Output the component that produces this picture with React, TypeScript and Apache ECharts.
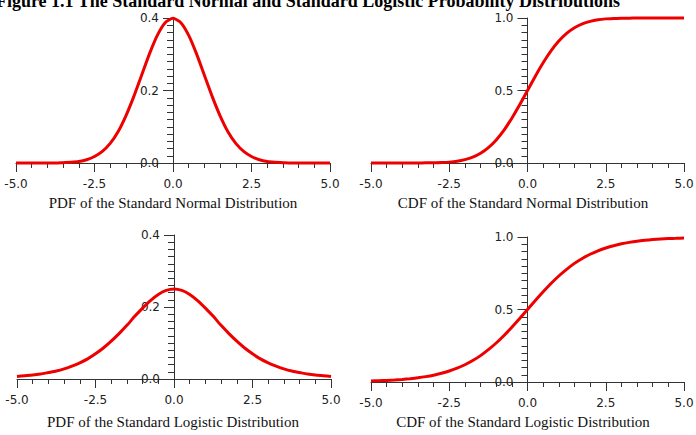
import React, { useEffect, useRef } from "react";
import * as echarts from "echarts";

const TITLE = "Figure 1.1 The Standard Normal and Standard Logistic Probability Distributions";
const CAPTIONS = [
  "PDF of the Standard Normal Distribution",
  "CDF of the Standard Normal Distribution",
  "PDF of the Standard Logistic Distribution",
  "CDF of the Standard Logistic Distribution",
];

const X = [
  -5, -4.75, -4.5, -4.25, -4, -3.75, -3.5, -3.25, -3, -2.75, -2.5, -2.25, -2, -1.75, -1.5, -1.25, -1, -0.75, -0.5, -0.25,
  0, 0.25, 0.5, 0.75, 1, 1.25, 1.5, 1.75, 2, 2.25, 2.5, 2.75, 3, 3.25, 3.5, 3.75, 4, 4.25, 4.5, 4.75, 5,
];

const normalPdf = [
  0.0, 0.0, 0.0, 0.0, 0.0, 0.0, 0.001, 0.002, 0.004, 0.009, 0.018, 0.032, 0.054, 0.086, 0.13, 0.183, 0.242, 0.301, 0.352, 0.387,
  0.399, 0.387, 0.352, 0.301, 0.242, 0.183, 0.13, 0.086, 0.054, 0.032, 0.018, 0.009, 0.004, 0.002, 0.001, 0.0, 0.0, 0.0, 0.0, 0.0, 0.0,
];

const normalCdf = [
  0.0, 0.0, 0.0, 0.0, 0.0, 0.0, 0.0, 0.001, 0.001, 0.003, 0.006, 0.012, 0.023, 0.04, 0.067, 0.106, 0.159, 0.227, 0.309, 0.401,
  0.5, 0.599, 0.691, 0.773, 0.841, 0.894, 0.933, 0.96, 0.977, 0.988, 0.994, 0.997, 0.999, 0.999, 1.0, 1.0, 1.0, 1.0, 1.0, 1.0, 1.0,
];

const logisticPdf = [
  0.007, 0.009, 0.011, 0.014, 0.018, 0.022, 0.028, 0.036, 0.045, 0.056, 0.07, 0.086, 0.105, 0.126, 0.149, 0.174, 0.197, 0.218, 0.235, 0.246,
  0.25, 0.246, 0.235, 0.218, 0.197, 0.174, 0.149, 0.126, 0.105, 0.086, 0.07, 0.056, 0.045, 0.036, 0.028, 0.022, 0.018, 0.014, 0.011, 0.009, 0.007,
];

const logisticCdf = [
  0.007, 0.009, 0.011, 0.014, 0.018, 0.023, 0.029, 0.037, 0.047, 0.06, 0.076, 0.095, 0.119, 0.148, 0.182, 0.223, 0.269, 0.321, 0.378, 0.438,
  0.5, 0.562, 0.622, 0.679, 0.731, 0.777, 0.818, 0.852, 0.881, 0.905, 0.924, 0.94, 0.953, 0.963, 0.971, 0.977, 0.982, 0.986, 0.989, 0.991, 0.993,
];

const SERIES = [normalPdf, normalCdf, logisticPdf, logisticCdf];
const Y_MAX = [0.4, 1.0, 0.4, 1.0];
const Y_INTERVAL = [0.2, 0.5, 0.2, 0.5];
const X_MIN = -5;
const X_MAX = 5;
const X_INTERVAL = 2.5;

const W = 696;

export default function App() {
  const ref = useRef<HTMLDivElement>(null);
  useEffect(() => {
    if (!ref.current) return;
    const chart = echarts.init(ref.current, undefined, { renderer: "svg" });
    const axisColor = "#333";
    const labelFont = { fontFamily: "DejaVu Sans", fontSize: 12, color: "#222" };
    const grids = [
      { left: 16, right: 366, top: 18, bottom: 272 },
      { left: 371, right: 12, top: 18, bottom: 272 },
      { left: 17, right: 365, top: 235, bottom: 56 },
      { left: 371, right: 12, top: 237, bottom: 53 },
    ];
    const captionPos = [
      [173, 203],
      [523, 203],
      [173, 422],
      [523, 422],
    ];
    const option: any = {
      animation: false,
      backgroundColor: "#fff",
      grid: grids.map((g) => ({ ...g, containLabel: false, outerBoundsMode: "none" })),
      xAxis: grids.map((_, i) => ({
        type: "value",
        gridIndex: i,
        min: X_MIN,
        max: X_MAX,
        interval: X_INTERVAL,
        axisLine: { show: true, onZero: true, lineStyle: { color: axisColor, width: 1 } },
        axisTick: { show: true, length: 9, lineStyle: { color: axisColor } },
        minorTick: { show: true, splitNumber: 5, length: 5, lineStyle: { color: axisColor } },
        splitLine: { show: false },
        axisLabel: { ...labelFont, margin: 15, formatter: (v: number) => v.toFixed(1), showMinLabel: true, showMaxLabel: true },
      })),
      yAxis: grids.map((g, i) => ({
        type: "value",
        gridIndex: i,
        position: "left",
        offset: -(W - g.left - g.right) / 2,
        min: 0,
        max: Y_MAX[i],
        interval: Y_INTERVAL[i],
        axisLine: { show: true, onZero: false, lineStyle: { color: axisColor, width: 1 } },
        axisTick: { show: true, length: 10, lineStyle: { color: axisColor } },
        minorTick: { show: true, splitNumber: 10, length: 6, lineStyle: { color: axisColor } },
        splitLine: { show: false },
        axisLabel: { ...labelFont, margin: 14, formatter: (v: number) => v.toFixed(1), showMinLabel: true, showMaxLabel: true },
      })),
      series: SERIES.map((vals, i) => ({
        type: "line",
        xAxisIndex: i,
        yAxisIndex: i,
        data: X.map((x, j) => [x, vals[j]]),
        showSymbol: false,
        clip: false,
        smooth: 0.2,
        lineStyle: { color: "#ee0000", width: 3 },
      })),
      graphic: [
        {
          type: "text",
          x: 308,
          y: 1,
          style: {
            text: TITLE,
            fontFamily: "Liberation Serif",
            fontWeight: "bold",
            fontSize: 18,
            fill: "#000",
            align: "center",
            verticalAlign: "middle",
          },
        },
        ...CAPTIONS.map((t, i) => ({
          type: "text",
          x: captionPos[i][0],
          y: captionPos[i][1],
          style: {
            text: t,
            fontFamily: "Liberation Serif",
            fontSize: 15,
            fill: "#111",
            align: "center",
            verticalAlign: "middle",
          },
        })),
      ],
    };
    chart.setOption(option);
    return () => chart.dispose();
  }, []);
  return (
    <div
      ref={ref}
      style={{ position: "fixed", left: 0, top: 0, width: 696, height: 435, background: "#fff" }}
    />
  );
}
